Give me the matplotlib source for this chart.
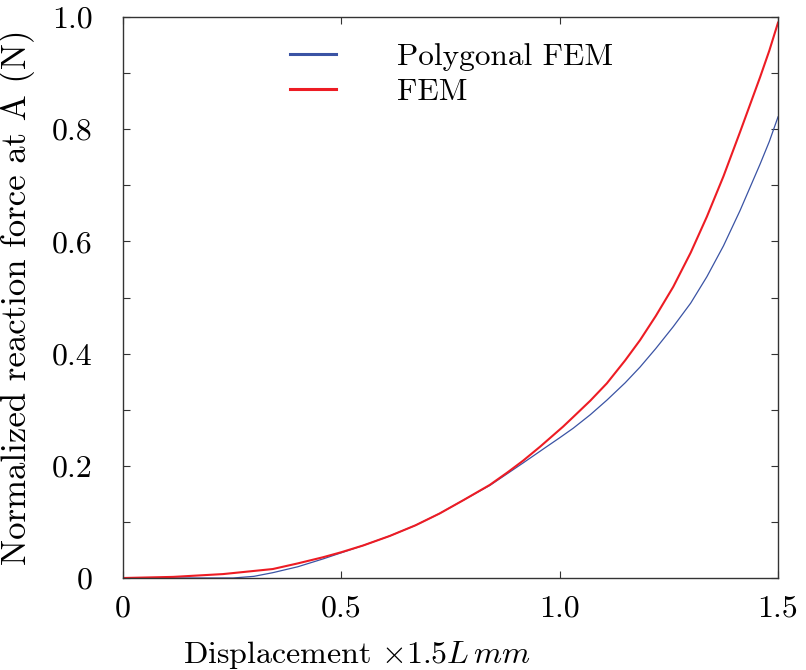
import matplotlib.pyplot as plt
from matplotlib.ticker import MultipleLocator

plt.rcParams['font.family'] = 'cmr10'
plt.rcParams['mathtext.fontset'] = 'cm'
plt.rcParams['axes.formatter.use_mathtext'] = True

# values
x_fem = [0, 0.115, 0.229, 0.343, 0.4, 0.458, 0.5, 0.55, 0.611, 0.67, 0.725, 0.78, 0.84,
         0.88, 0.916, 0.955, 1.008, 1.031, 1.07, 1.108, 1.15, 1.184, 1.22, 1.26, 1.3, 1.337,
         1.375, 1.413, 1.459, 1.48, 1.5]
y_fem = [0, 0.002, 0.007, 0.016, 0.026, 0.037, 0.046, 0.058, 0.075, 0.094, 0.115, 0.139, 0.166,
         0.188, 0.209, 0.234, 0.27, 0.287, 0.316, 0.347, 0.388, 0.424, 0.467, 0.519, 0.58, 0.644,
         0.716, 0.795, 0.893, 0.94, 0.99]

x_poly = [0, 0.252, 0.3, 0.343, 0.4, 0.458, 0.5, 0.55, 0.611, 0.67, 0.725, 0.78, 0.84, 0.88,
          0.916, 0.97, 1.0, 1.031, 1.07, 1.108, 1.15, 1.184, 1.22, 1.26, 1.3, 1.337, 1.375,
          1.413, 1.459, 1.48, 1.5]
y_poly = [0, 0, 0.003, 0.0095, 0.02, 0.034, 0.045, 0.058, 0.075, 0.094, 0.115, 0.139, 0.165, 0.186,
          0.205, 0.234, 0.25, 0.267, 0.291, 0.317, 0.348, 0.376, 0.409, 0.448, 0.49, 0.537, 0.592,
          0.655, 0.738, 0.778, 0.822]

x_ticks = [0, 0.5, 1.0, 1.5]
x_tick_labels = ["0", "0.5", "1.0", "1.5"]
y_ticks = [0, 0.2, 0.4, 0.6, 0.8, 1.0]
y_tick_labels = ["0", "0.2", "0.4", "0.6", "0.8", "1.0"]

blue = '#3a53a4'
red = '#ed1c24'

fig = plt.figure(figsize=(8.06, 6.70), dpi=100)
ax = fig.add_axes([0.1526, 0.1373, 0.8127, 0.8373])

ax.plot(x_poly, y_poly, color=blue, lw=0.9, label="Polygonal FEM")
ax.plot(x_fem, y_fem, color=red, lw=1.5, label="FEM")

ax.set_xlim(0, 1.5)
ax.set_ylim(0, 1.0)
ax.set_xticks(x_ticks)
ax.set_xticklabels(x_tick_labels)
ax.set_yticks(y_ticks)
ax.set_yticklabels(y_tick_labels)
ax.yaxis.set_minor_locator(MultipleLocator(0.1))

ax.tick_params(which='both', direction='in', top=True, right=True,
               length=5, width=0.8, color='#333333', labelsize=23)
ax.tick_params(axis='x', pad=12)
ax.tick_params(axis='y', pad=22)
for s in ax.spines.values():
    s.set_color('#333333')
    s.set_linewidth(1.0)

ax.set_xlabel(r"Displacement $\times1.5L\,mm$", fontsize=23)
ax.xaxis.set_label_coords(0.357, -0.108)
ax.set_ylabel("Normalized reaction force at A (N)", fontsize=25)
ax.yaxis.set_label_coords(-0.135, 0.5)

leg = ax.legend(loc='upper left', bbox_to_anchor=(0.212, 1.004), frameon=False,
                fontsize=22.5, handlelength=1.48, handletextpad=1.94, labelspacing=0.22)
for h in leg.get_lines():
    h.set_linewidth(2.2)

fig.savefig("out.png", dpi=100)
